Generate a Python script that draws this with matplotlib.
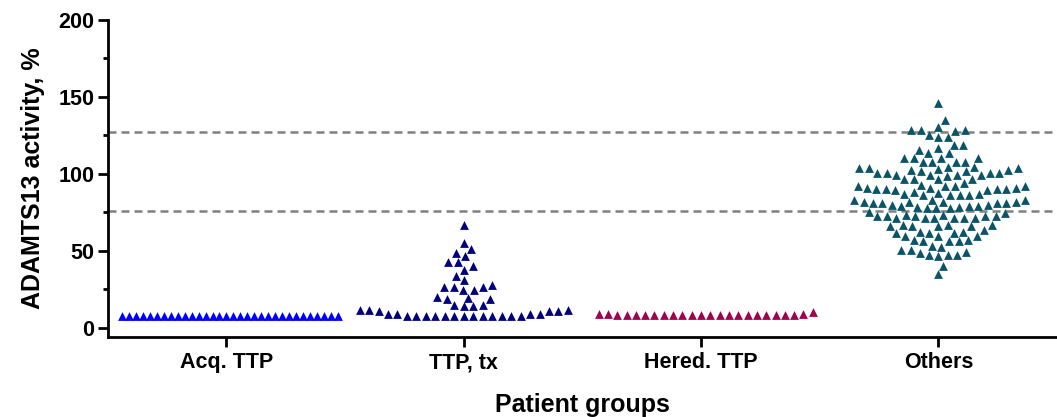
import numpy as np
import matplotlib
matplotlib.use('Agg')
from matplotlib import pyplot as plt
from matplotlib.ticker import MultipleLocator

groups = ['Acq. TTP', 'TTP, tx', 'Hered. TTP', 'Others']
colors = ['#0000FF', '#00007F', '#A0004F', '#0A5468']
ref_lines = [76, 127]

# ADAMTS13 activity, %
acq_ttp = [7.8] * 32

ttp_tx = [66.9, 55, 51.1, 48.6, 46.3, 42.4, 42.4, 39.8, 37.7, 33.8,
          30.8, 28, 26.4, 26.4, 26.4, 24.7, 24.7, 20, 18.6, 18.6, 19.6,
          15, 14.2, 14.2, 15,
          11.2, 11.2, 11.2, 10.6, 10.6, 10.6, 9.1, 9.1, 9.1, 9.1] + [7.8] * 13

hered_ttp = [8.4] * 20 + [9.2] * 3 + [10.5]

others = [146, 135,
          130.7, 128.6, 128, 128.6, 128.6,
          124.2, 125.3, 124.2,
          118.8, 118.8, 116.6,
          113.4, 113.4, 115.6,
          110.2, 110.2, 108, 110.2, 108, 108, 110.2,
          104.7, 104.7, 107.9,
          103.7, 103.7, 102.5, 101.7, 101.7, 100.6, 100.6, 100.6, 100.6,
          99.5, 99.5, 99.5, 99.4, 98.5, 102.5, 103.2, 103.6,
          96.5, 96.5, 96.5, 96.5, 93.9, 92.8, 91.8, 91.8, 91.8, 91.8,
          90.7, 90.7, 90.7, 90, 90, 90, 90, 89.6, 89.6,
          88, 87.5, 87, 87, 86.5, 86.5, 86, 86,
          83.1, 83.1, 83.1, 82, 82, 82, 82, 80.9, 80.9, 80.9, 80.9,
          79.9, 79.9, 79.2, 78.8, 78.8, 78.4, 78.4, 77.7, 77.7, 77.7,
          74.9, 74.5, 73.4, 73.4, 72.3, 72.3, 72.3, 72.3, 72.3,
          71.3, 71.3, 71.3, 71.3, 71.3, 71.3,
          66.9, 66.9, 66.9, 65.8, 65.8, 65.8, 65.8, 63.6, 62.5, 62.5,
          61.5, 61.5, 61.5,
          59.3, 59.3, 59.3, 57.1, 57.1, 56.1, 56.1, 56.1,
          52.7, 53,
          50.6, 50.2, 49.4, 48.8, 47.5, 47, 46.8, 47,
          40.3, 35]

data = [acq_ttp, ttp_tx, hered_ttp, others]

W, H = 1057, 417
ax_rect = [0.102, 0.192, 0.898, 0.76]
xlim = (-0.5, 3.5)
ylim = (-6, 200)
xpx = ax_rect[2] * W / (xlim[1] - xlim[0])
ypx = ax_rect[3] * H / (ylim[1] - ylim[0])


def swarm(vals, d=9.5, half=0.47):
    # simple beeswarm in pixel space, lowest values placed first
    y = np.asarray(vals, float) * ypx
    xs = np.zeros(len(y))
    done = []
    for i in np.argsort(y, kind='stable'):
        cands = [0.0]
        for j in done:
            dy = y[i] - y[j]
            if abs(dy) < d:
                dx = np.sqrt(d * d - dy * dy)
                cands += [xs[j] + dx, xs[j] - dx]
        for c in sorted(cands, key=abs):
            if all((c - xs[j]) ** 2 + (y[i] - y[j]) ** 2 >= d * d - 1e-6 for j in done):
                break
        xs[i] = c
        done.append(i)
    xs = xs / xpx
    m = np.abs(xs).max()
    if m > half:
        xs *= half / m
    return xs


plt.rcParams['font.family'] = ['Liberation Sans', 'DejaVu Sans']
plt.rcParams['font.weight'] = 'bold'

fig = plt.figure(figsize=(W / 100, H / 100), dpi=100)
ax = fig.add_axes(ax_rect)

for y in ref_lines:
    ax.axhline(y, color='#808080', lw=1.8, dashes=(3.2, 2.0), zorder=1)

for k, vals in enumerate(data):
    x = k + swarm(vals)
    ax.scatter(x, vals, marker='^', s=40, color=colors[k], linewidths=0, zorder=3)

ax.set_xlim(*xlim)
ax.set_ylim(*ylim)
ax.set_xticks(range(len(groups)))
ax.set_xticklabels(groups, fontsize=15.5, fontweight='bold')
ax.yaxis.set_major_locator(MultipleLocator(50))
ax.yaxis.set_minor_locator(MultipleLocator(25))
for lab in ax.get_yticklabels():
    lab.set_fontsize(15.5)
    lab.set_fontweight('bold')

for s in ['top', 'right']:
    ax.spines[s].set_visible(False)
for s in ['left', 'bottom']:
    ax.spines[s].set_linewidth(2)
ax.tick_params(which='major', width=2, length=7, pad=2.5)
ax.tick_params(axis='x', pad=4)
ax.tick_params(which='minor', width=2, length=3.6)

ax.set_ylabel('ADAMTS13 activity, %', fontsize=18, fontweight='bold', labelpad=10)
ax.set_xlabel('Patient groups', fontsize=18, fontweight='bold', labelpad=14)

fig.savefig('out.png', dpi=100)
